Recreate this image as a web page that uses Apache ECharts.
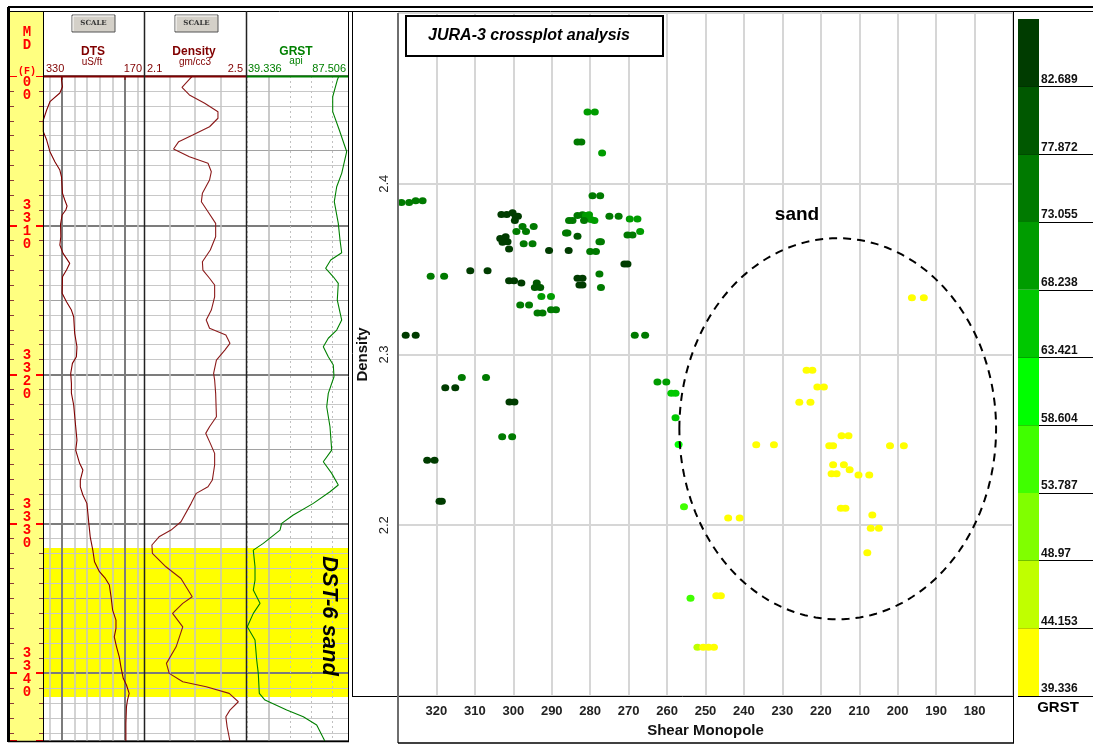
<!DOCTYPE html>
<html>
<head>
<meta charset="utf-8">
<script src="https://cdn.jsdelivr.net/npm/echarts@6/dist/echarts.min.js"></script>
<style>
html, body { margin: 0; padding: 0; background: #fff; }
#chart { width: 1093px; height: 744px; }
</style>
</head>
<body>
<div id="chart"></div>
<script>
// ---------- JURA-3 log panel ----------
const depthRange = [3300, 3344.55];
const sandTop = 3331.62;
const sandBase = 3341.6;

const dtsDepth = [3300.0, 3300.27, 3300.72, 3301.14, 3301.72, 3302.28, 3302.95, 3303.73, 3304.29, 3305.07,
  3305.74, 3306.30, 3306.75, 3307.86, 3308.31, 3308.71, 3308.98, 3309.31, 3309.92, 3310.77,
  3311.32, 3311.88, 3312.55, 3313.00, 3313.45, 3314.56, 3315.12, 3315.68, 3316.13, 3317.24,
  3318.14, 3318.81, 3319.25, 3319.92, 3320.59, 3321.24, 3322.04, 3323.50, 3324.39, 3325.06,
  3325.95, 3326.40, 3327.07, 3327.52, 3328.07, 3328.63, 3329.30, 3329.97, 3330.87, 3331.76,
  3332.54, 3333.21, 3333.66, 3334.10, 3334.89, 3335.78, 3336.45, 3337.01, 3337.57, 3338.24,
  3338.91, 3339.58, 3340.35, 3340.80, 3341.36, 3341.81, 3342.26, 3343.37, 3344.55];
const dtsValue = [300.7, 300.7, 299.1, 303.3, 319.0, 324.2, 329.5, 329.5, 324.2, 319.0,
  311.2, 303.3, 300.7, 299.1, 295.5, 291.9, 293.9, 299.7, 302.2, 301.8,
  303.3, 298.2, 287.6, 292.8, 299.1, 299.7, 292.8, 285.0, 281.4, 279.8,
  276.2, 277.1, 283.4, 286.1, 285.0, 285.0, 281.4, 278.2, 276.2, 278.2,
  272.0, 266.8, 270.9, 270.9, 266.8, 260.5, 258.9, 257.4, 255.2, 251.1,
  248.4, 240.6, 231.2, 224.9, 222.2, 219.7, 214.4, 214.4, 217.1, 213.5,
  209.2, 206.6, 202.9, 197.8, 193.5, 196.2, 197.8, 198.7, 198.7];

const rhobDepth = [3300.0, 3300.27, 3300.76, 3301.27, 3301.83, 3302.39, 3302.83, 3303.40, 3303.95, 3304.40,
  3304.89, 3305.41, 3305.85, 3306.41, 3306.97, 3307.86, 3308.42, 3309.09, 3309.87, 3310.77,
  3311.66, 3312.44, 3313.00, 3313.55, 3314.00, 3314.79, 3315.68, 3316.35, 3316.90, 3317.35,
  3317.91, 3318.36, 3319.03, 3319.92, 3320.37, 3321.26, 3322.83, 3323.50, 3323.94, 3324.61,
  3325.28, 3326.06, 3327.07, 3327.52, 3327.96, 3328.63, 3329.86, 3330.42, 3330.87, 3331.42,
  3331.98, 3332.88, 3333.66, 3334.89, 3335.33, 3336.00, 3336.90, 3338.24, 3339.35, 3340.02,
  3340.58, 3340.92, 3341.36, 3341.92, 3342.48, 3342.93, 3343.60, 3344.55];
const rhobValue = [2.290, 2.275, 2.249, 2.278, 2.338, 2.390, 2.390, 2.357, 2.291, 2.236,
  2.216, 2.278, 2.351, 2.364, 2.357, 2.329, 2.325, 2.351, 2.381, 2.381,
  2.360, 2.329, 2.331, 2.357, 2.377, 2.377, 2.364, 2.344, 2.357, 2.421,
  2.437, 2.417, 2.384, 2.373, 2.377, 2.381, 2.384, 2.357, 2.342, 2.360,
  2.377, 2.377, 2.368, 2.351, 2.305, 2.285, 2.245, 2.206, 2.159, 2.131,
  2.133, 2.186, 2.245, 2.289, 2.252, 2.212, 2.252, 2.226, 2.188, 2.199,
  2.252, 2.344, 2.434, 2.470, 2.437, 2.421, 2.426, 2.437];

const grDepth = [3300.0, 3300.27, 3301.39, 3302.39, 3303.62, 3304.74, 3305.07, 3306.52, 3307.42, 3308.42,
  3309.87, 3310.99, 3311.84, 3312.33, 3312.88, 3313.45, 3313.89, 3315.01, 3316.35, 3317.02,
  3317.57, 3318.14, 3318.81, 3319.36, 3320.15, 3321.26, 3322.16, 3323.50, 3325.06, 3325.84,
  3326.62, 3327.40, 3327.85, 3328.63, 3329.41, 3329.97, 3330.42, 3331.31, 3331.76, 3332.88,
  3333.77, 3334.44, 3335.33, 3336.00, 3336.90, 3337.79, 3339.13, 3340.02, 3341.36, 3341.81,
  3342.48, 3342.93, 3343.48, 3344.55];
const grValue = [83.2, 82.45, 80.28, 80.28, 83.40, 86.09, 86.89, 84.53, 82.17, 81.03,
  82.92, 83.73, 84.53, 79.34, 76.97, 80.56, 82.92, 82.45, 84.53, 82.17,
  78.20, 75.84, 78.20, 80.56, 80.89, 78.20, 77.45, 79.00, 79.81, 75.84,
  79.81, 82.92, 79.00, 71.12, 61.67, 56.19, 55.39, 47.51, 42.78, 43.59,
  43.59, 42.78, 45.95, 42.78, 39.95, 43.59, 44.39, 45.14, 45.62, 48.31,
  58.56, 66.40, 72.72, 76.56];

// vertical reference lines of each track (track units)
const dtsGridLines = [320, 300, 280, 260, 240, 220, 200, 180];
const dtsHeavyLines = [300, 200];
const rhobGridLines = [2.2, 2.3, 2.4];
const grGridLines = [40, 50, 60, 70, 80];
const grSolidLines = [50];

// ---------- crossplot (Shear Monopole vs Density, coloured by GRST) ----------
const shearMonopole = [
  280.7, 278.8, 283.3, 282.3, 276.9, 279.4, 277.4, 329.1, 327.1, 325.4,
  323.6, 303.1, 301.7, 300.2, 299.4, 298.8, 299.6, 297.6, 296.7, 299.2,
  294.7, 303.4, 302.0, 302.8, 301.5, 301.1, 297.3, 295.0, 290.7, 285.6,
  285.5, 284.6, 283.3, 282.0, 281.1, 280.3, 279.8, 278.9, 281.6, 275.0,
  272.6, 269.7, 267.7, 286.3, 285.9, 283.3, 277.6, 277.2, 280.0, 278.5,
  270.3, 269.0, 267.0, 271.1, 270.3, 311.2, 306.7, 321.5, 318.0, 301.1,
  299.8, 297.9, 293.9, 294.4, 293.0, 292.7, 290.2, 298.2, 295.9, 293.7,
  292.4, 290.2, 288.9, 283.3, 282.0, 282.8, 282.0, 277.6, 277.2, 268.4,
  265.7, 328.0, 325.4, 262.5, 260.2, 258.9, 257.8, 257.8, 257.0, 317.7,
  315.1, 313.4, 307.1, 301.0, 299.7, 302.9, 300.3, 322.4, 320.5, 319.2,
  318.6, 255.6, 244.1, 241.1, 253.9, 247.2, 246.0, 252.1, 250.6, 249.2,
  247.8, 223.7, 222.2, 220.9, 219.2, 225.6, 222.7, 236.8, 232.2, 214.6,
  212.8, 217.8, 216.8, 202.0, 198.4, 216.8, 214.0, 217.2, 215.9, 212.5,
  210.2, 207.4, 214.8, 213.6, 206.6, 207.0, 204.9, 207.9, 196.3, 193.2];
const densityPts = [
  2.442, 2.442, 2.4245, 2.4245, 2.418, 2.393, 2.393, 2.389, 2.389, 2.390,
  2.390, 2.382, 2.382, 2.383, 2.381, 2.381, 2.3785, 2.375, 2.372, 2.372,
  2.375, 2.368, 2.369, 2.3657, 2.366, 2.3618, 2.3648, 2.3648, 2.3609, 2.3609,
  2.3785, 2.3785, 2.3814, 2.3818, 2.3814, 2.3818, 2.379, 2.3785, 2.3785, 2.381,
  2.381, 2.3794, 2.3794, 2.3712, 2.3712, 2.3693, 2.3661, 2.3661, 2.3603, 2.3603,
  2.370, 2.370, 2.372, 2.353, 2.353, 2.3491, 2.3491, 2.3458, 2.3458, 2.3432,
  2.3432, 2.3419, 2.3419, 2.3393, 2.3393, 2.334, 2.334, 2.329, 2.329, 2.3243,
  2.3243, 2.3262, 2.3262, 2.3446, 2.3446, 2.3407, 2.3407, 2.3472, 2.3393, 2.3113,
  2.3113, 2.3113, 2.3113, 2.2839, 2.2839, 2.2773, 2.2773, 2.2630, 2.2473, 2.2806,
  2.2806, 2.2865, 2.2865, 2.2722, 2.2722, 2.2518, 2.2518, 2.2381, 2.2381, 2.2141,
  2.2141, 2.2108, 2.2043, 2.2043, 2.1573, 2.1587, 2.1587, 2.1286, 2.1286, 2.1286,
  2.1286, 2.2908, 2.2908, 2.281, 2.281, 2.272, 2.272, 2.2471, 2.2471, 2.2524,
  2.2524, 2.2465, 2.2465, 2.2465, 2.2465, 2.2354, 2.2354, 2.2301, 2.2301, 2.2325,
  2.2295, 2.2295, 2.2099, 2.2099, 2.206, 2.1982, 2.1982, 2.1839, 2.3332, 2.3332];
const grstPts = [
  70.5, 70.5, 75.5, 75.5, 70.5, 75.5, 75.5, 75.5, 75.5, 75.5,
  75.5, 84.5, 84.5, 84.5, 84.5, 84.5, 84.5, 75.5, 75.5, 75.5,
  75.5, 84.5, 84.5, 84.5, 84.5, 84.5, 75.5, 75.5, 84.5, 84.5,
  75.5, 75.5, 75.5, 75.5, 70.5, 70.5, 70.5, 70.5, 75.5, 75.5,
  75.5, 70.5, 70.5, 75.5, 75.5, 80.0, 75.5, 75.5, 75.5, 75.5,
  75.5, 75.5, 70.5, 84.5, 84.5, 84.5, 84.5, 75.5, 75.5, 84.5,
  84.5, 84.5, 80.0, 80.0, 80.0, 70.5, 70.5, 75.5, 75.5, 75.5,
  75.5, 75.5, 75.5, 84.5, 84.5, 84.5, 84.5, 75.5, 75.5, 75.5,
  75.5, 84.5, 84.5, 70.5, 70.5, 66.0, 66.0, 66.0, 61.0, 84.5,
  84.5, 75.5, 75.5, 84.5, 84.5, 75.5, 75.5, 84.5, 84.5, 84.5,
  84.5, 56.0, 41.5, 41.5, 56.0, 41.5, 41.5, 46.5, 41.5, 41.5,
  41.5, 41.5, 41.5, 41.5, 41.5, 41.5, 41.5, 41.5, 41.5, 41.5,
  41.5, 41.5, 41.5, 41.5, 41.5, 41.5, 41.5, 41.5, 41.5, 41.5,
  41.5, 41.5, 41.5, 41.5, 41.5, 41.5, 41.5, 41.5, 41.5, 41.5];

// GRST colour classes (lower bounds .. upper bound) and their colours
const grstBreaks = [39.336, 44.153, 48.97, 53.787, 58.604, 63.421, 68.238, 73.055, 77.872, 82.689, 87.506];
const grstColors = ['#ffff00', '#c0ff00', '#80ff00', '#40ff00', '#00ff00', '#00c800', '#009c00', '#007a00', '#005800', '#003c00'];

// outline of the sand zone: centre and semi-axes in data units
const sandZone = { center: [215.6, 2.2565], radius: [41.2, 0.1116] };

// ---------- layout ----------
const FF = '"Liberation Sans", Arial, Helvetica, sans-serif';
const MONO = '"Liberation Mono", "DejaVu Sans Mono", monospace';
const TRACK_TOP = 76, TRACK_H = 665;
const DTS_RED = '#800000';
const GR_GREEN = '#008000';
const SCALE_BAR_W = 21;

const chart = echarts.init(document.getElementById('chart'), null, { renderer: 'canvas' });

function depthAxis(gridIndex, extra) {
  return Object.assign({
    type: 'value', gridIndex: gridIndex, min: depthRange[0], max: depthRange[1],
    inverse: true, interval: 1,
    axisLine: { show: false, onZero: false }, axisTick: { show: false },
    axisLabel: { show: false }, splitLine: { show: false }
  }, extra);
}

const minorColors = ['#c8c8c8', '#c8c8c8', '#c8c8c8', '#c8c8c8', '#c8c8c8', '#a2a2a2', '#c8c8c8', '#c8c8c8', '#c8c8c8', '#c8c8c8'];

function trackYAxes(g) {
  return [
    depthAxis(g, { splitLine: { show: true, lineStyle: { color: minorColors, width: 1 } } }),
    depthAxis(g, { interval: 10, splitLine: { show: true, lineStyle: { color: '#7c7c7c', width: 2 } } })
  ];
}

function hiddenX(g, min, max, inverse) {
  return { type: 'value', gridIndex: g, min: min, max: max, inverse: !!inverse, show: false };
}

function gridLineMarks(values, styleOf) {
  return {
    silent: true, z: 1, symbol: ['none', 'none'], animation: false,
    label: { show: false },
    data: values.map(v => ({ xAxis: v, lineStyle: styleOf(v) }))
  };
}

const sandBand = {
  silent: true, z: -1, animation: false,
  itemStyle: { color: '#ffff00' },
  data: [[{ yAxis: sandTop }, { yAxis: sandBase }]]
};

const yAxes = [
  // depth track (0..3)
  depthAxis(0, {
    position: 'right',
    axisTick: { show: true, inside: true, length: 4, lineStyle: { color: '#8b3a3a', width: 1 } },
    axisLabel: {
      show: true, inside: true, interval: 0, margin: 16, align: 'center',
      color: '#ff0000', fontFamily: MONO, fontWeight: 'bold', fontSize: 14, lineHeight: 13,
      formatter: v => (Math.abs(v % 10) < 1e-6 ? String(Math.round(v)).split('').join('\n') : '')
    }
  }),
  depthAxis(0, { position: 'left', axisTick: { show: true, inside: true, length: 4, lineStyle: { color: '#8b3a3a', width: 1 } } }),
  depthAxis(0, { position: 'right', interval: 10, axisTick: { show: true, inside: true, length: 7, lineStyle: { color: '#ff0000', width: 2 } } }),
  depthAxis(0, { position: 'left', interval: 10, axisTick: { show: true, inside: true, length: 7, lineStyle: { color: '#ff0000', width: 2 } } }),
  // DTS (4,5), Density (6,7), GRST (8,9)
  ...trackYAxes(1), ...trackYAxes(2), ...trackYAxes(3),
  // crossplot (10)
  {
    type: 'value', gridIndex: 4, min: 2.1, max: 2.5, interval: 0.1,
    axisLine: { show: false, onZero: false }, axisTick: { show: false },
    axisLabel: { showMinLabel: false, showMaxLabel: false, rotate: 90, margin: 7, fontSize: 13, color: '#222', fontFamily: FF },
    splitLine: { lineStyle: { color: '#d6d6d6', width: 2 } },
    name: 'Density', nameLocation: 'middle', nameGap: 25,
    nameTextStyle: { fontSize: 15, fontWeight: 'bold', color: '#111', fontFamily: FF }
  },
  // colour scale (11)
  {
    type: 'value', gridIndex: 5, min: 0, max: 10, interval: 1, position: 'left',
    axisLine: { show: false, onZero: false }, axisTick: { show: false },
    axisLabel: {
      inside: true, margin: 23, align: 'left', verticalAlign: 'bottom', padding: [0, 0, 1, 0],
      fontSize: 12, fontWeight: 'bold', color: '#111', fontFamily: FF,
      formatter: v => (v < 10 ? String(grstBreaks[v]) : '')
    },
    splitLine: { show: true, lineStyle: { color: grstColors.map(() => '#000').concat(['rgba(0,0,0,0)']), width: 1 } }
  }
];

const xAxes = [
  hiddenX(0, 0, 1),
  hiddenX(1, 170, 330, true),
  hiddenX(2, 2.1, 2.5),
  hiddenX(3, grstBreaks[0], grstBreaks[grstBreaks.length - 1]),
  {
    type: 'value', gridIndex: 4, inverse: true, min: 170, max: 330, interval: 10,
    axisLine: { show: false, onZero: false }, axisTick: { show: false },
    axisLabel: { showMinLabel: false, showMaxLabel: false, margin: 9, fontSize: 13, fontWeight: 'bold', color: '#222', fontFamily: FF },
    splitLine: { lineStyle: { color: '#d6d6d6', width: 2 } },
    name: 'Shear Monopole', nameLocation: 'middle', nameGap: 25,
    nameTextStyle: { fontSize: 15, fontWeight: 'bold', color: '#111', fontFamily: FF }
  },
  hiddenX(5, 0, 75)
];

const grids = [
  { left: 10, top: TRACK_TOP, width: 33, height: TRACK_H, show: true, backgroundColor: '#ffff80', borderWidth: 0 },
  { left: 43, top: TRACK_TOP, width: 101, height: TRACK_H },
  { left: 144, top: TRACK_TOP, width: 102, height: TRACK_H },
  { left: 246, top: TRACK_TOP, width: 102, height: TRACK_H },
  { left: 398, top: 13, width: 615, height: 683 },
  { left: 1018, top: 19, width: 75, height: 677 }
];

const series = [
  {
    type: 'line', name: 'DTS', xAxisIndex: 1, yAxisIndex: 4, z: 3,
    data: dtsDepth.map((d, i) => [dtsValue[i], d]),
    showSymbol: false, symbol: 'none', silent: true,
    lineStyle: { color: DTS_RED, width: 1.1 },
    markLine: gridLineMarks(dtsGridLines, v => dtsHeavyLines.includes(v)
      ? { color: '#7c7c7c', width: 2, type: 'solid' } : { color: '#c4c4c4', width: 1.5, type: 'solid' }),
    markArea: sandBand
  },
  {
    type: 'line', name: 'Density', xAxisIndex: 2, yAxisIndex: 6, z: 3,
    data: rhobDepth.map((d, i) => [rhobValue[i], d]),
    showSymbol: false, symbol: 'none', silent: true,
    lineStyle: { color: '#8b1a1a', width: 1.1 },
    markLine: gridLineMarks(rhobGridLines, () => ({ color: '#c4c4c4', width: 1.5, type: 'solid' })),
    markArea: sandBand
  },
  {
    type: 'line', name: 'GRST', xAxisIndex: 3, yAxisIndex: 8, z: 3,
    data: grDepth.map((d, i) => [grValue[i], d]),
    showSymbol: false, symbol: 'none', silent: true,
    lineStyle: { color: GR_GREEN, width: 1.1 },
    markLine: gridLineMarks(grGridLines, v => grSolidLines.includes(v)
      ? { color: '#b8b8b8', width: 1.5, type: 'solid' } : { color: '#c0c0c0', width: 1, type: [2, 3] }),
    markArea: sandBand
  },
  {
    type: 'scatter', name: 'crossplot', xAxisIndex: 4, yAxisIndex: 10, z: 4,
    data: shearMonopole.map((x, i) => [x, densityPts[i], grstPts[i]]),
    symbol: 'circle', symbolSize: [8, 7], silent: true,
    itemStyle: { opacity: 1 }
  },
  {
    type: 'custom', name: 'sand zone', xAxisIndex: 4, yAxisIndex: 10, z: 5, silent: true,
    clip: false,
    data: [[sandZone.center[0], sandZone.center[1], sandZone.radius[0], sandZone.radius[1]]],
    encode: { x: 0, y: 1 },
    renderItem: (params, api) => {
      const cx = api.value(0), cy = api.value(1), rx = api.value(2), ry = api.value(3);
      const pts = [];
      for (let k = 0; k <= 180; k++) {
        const t = k / 180 * Math.PI * 2;
        pts.push(api.coord([cx + rx * Math.cos(t), cy + ry * Math.sin(t)]));
      }
      return {
        type: 'polyline', shape: { points: pts },
        style: { stroke: '#000', lineWidth: 2, lineDash: [8, 6], fill: null }
      };
    }
  },
  // colour scale: one block per GRST class, spanning class index i .. i+1
  {
    type: 'custom', name: 'GRST scale', xAxisIndex: 5, yAxisIndex: 11, z: 3, silent: true,
    data: grstColors.map((c, i) => [i, i + 1]),
    encode: { y: [0, 1] },
    renderItem: (params, api) => {
      const lo = api.coord([0, api.value(0)]);
      const hi = api.coord([SCALE_BAR_W, api.value(1)]);
      return {
        type: 'rect',
        shape: { x: lo[0], y: hi[1], width: hi[0] - lo[0], height: lo[1] - hi[1] },
        style: { fill: grstColors[params.dataIndex] }
      };
    }
  }
];

// ---------- header, frames and annotations ----------
function txt(x, y, text, font, color, align, extra) {
  return Object.assign({
    type: 'text', x: x, y: y, z: 100, silent: true,
    style: { text: text, font: font, fill: color || '#000', align: align || 'center', verticalAlign: 'middle' }
  }, extra || {});
}
function ln(x1, y1, x2, y2, color, width, extra) {
  return Object.assign({
    type: 'line', z: 100, silent: true,
    shape: { x1: x1, y1: y1, x2: x2, y2: y2 },
    style: { stroke: color || '#000', lineWidth: width || 1 }
  }, extra || {});
}
function button(x, y) {
  return [
    { type: 'rect', z: 100, silent: true, shape: { x: x, y: y, width: 43, height: 17 },
      style: { fill: '#d4d0c8', stroke: '#555', lineWidth: 1 } },
    ln(x + 1, y + 1, x + 42, y + 1, '#fff', 1),
    ln(x + 1, y + 1, x + 1, y + 16, '#fff', 1),
    txt(x + 21.5, y + 8.5, 'SCALE', 'bold 7px "DejaVu Serif", serif', '#333')
  ];
}

const graphic = [
  // depth header cell
  { type: 'rect', z: 99, silent: true, shape: { x: 10, y: 11, width: 33, height: 65 }, style: { fill: '#ffff80' } },
  txt(27, 32, 'M', 'bold 14px ' + MONO, '#ff0000'),
  txt(27, 45, 'D', 'bold 14px ' + MONO, '#ff0000'),
  txt(27, 71, '(F)', 'bold 10px ' + MONO, '#ff0000'),
  ...button(72, 15),
  ...button(175, 15),
  // DTS header
  txt(93, 52, 'DTS', 'bold 12px ' + FF, DTS_RED),
  txt(92, 62, 'uS/ft', '10px ' + FF, DTS_RED),
  txt(46, 69, '330', '11px ' + FF, DTS_RED, 'left'),
  txt(142, 69, '170', '11px ' + FF, DTS_RED, 'right'),
  // Density header
  txt(194, 52, 'Density', 'bold 12px ' + FF, DTS_RED),
  txt(195, 62, 'gm/cc3', '10px ' + FF, DTS_RED),
  txt(147, 69, '2.1', '11px ' + FF, DTS_RED, 'left'),
  txt(243, 69, '2.5', '11px ' + FF, DTS_RED, 'right'),
  // GRST header
  txt(296, 52, 'GRST', 'bold 12px ' + FF, GR_GREEN),
  txt(296, 61, 'api', '10px ' + FF, GR_GREEN),
  txt(248, 69, '39.336', '11px ' + FF, GR_GREEN, 'left'),
  txt(346, 69, '87.506', '11px ' + FF, GR_GREEN, 'right'),
  // scale bars under the headers
  ln(43, 76.5, 246, 76.5, DTS_RED, 2),
  ln(246, 76.5, 348, 76.5, GR_GREEN, 2),
  ln(62, 76, 62, 80, DTS_RED, 1), ln(125, 76, 125, 80, DTS_RED, 1),
  // outer frame of the log panel
  ln(8, 7, 1093, 7, '#000', 2),
  ln(8, 11.5, 1093, 11.5, '#000', 1),
  ln(8.5, 7, 8.5, 742, '#000', 3),
  ln(8, 741.5, 349, 741.5, '#000', 1.5),
  ln(43.5, 11, 43.5, 741, '#000', 1),
  ln(144.5, 11, 144.5, 741, '#222', 1.5),
  ln(246.5, 11, 246.5, 741, '#222', 1.5),
  ln(348.5, 11, 348.5, 742, '#000', 1),
  // interval label
  txt(329, 616, 'DST-6 sand', 'italic bold 22px ' + FF, '#000', 'center', { rotation: -Math.PI / 2 }),
  // crossplot frame
  ln(352.5, 11, 352.5, 696, '#000', 1),
  ln(352, 696.5, 1013, 696.5, '#000', 1),
  ln(398, 13, 398, 743, '#6e6e6e', 2),
  ln(398, 743, 1014, 743, '#000', 1.5),
  ln(1013.5, 11, 1013.5, 743, '#000', 1),
  // title box
  { type: 'rect', z: 100, silent: true, shape: { x: 406, y: 16, width: 257, height: 40 },
    style: { fill: '#fff', stroke: '#000', lineWidth: 2 } },
  txt(529, 36, 'JURA-3 crossplot analysis', 'italic bold 16px ' + FF, '#000'),
  // zone label
  txt(797, 215, 'sand', 'bold 19px ' + FF, '#000'),
  // colour scale title
  txt(1058, 708, 'GRST', 'bold 15px ' + FF, '#000')
];

chart.setOption({
  backgroundColor: '#ffffff',
  animation: false,
  grid: grids,
  xAxis: xAxes,
  yAxis: yAxes,
  visualMap: {
    type: 'piecewise', show: false, seriesIndex: 3, dimension: 2,
    pieces: grstColors.map((c, i) => ({ gte: grstBreaks[i], lt: grstBreaks[i + 1], color: c }))
  },
  series: series,
  graphic: graphic
});
</script>
</body>
</html>
